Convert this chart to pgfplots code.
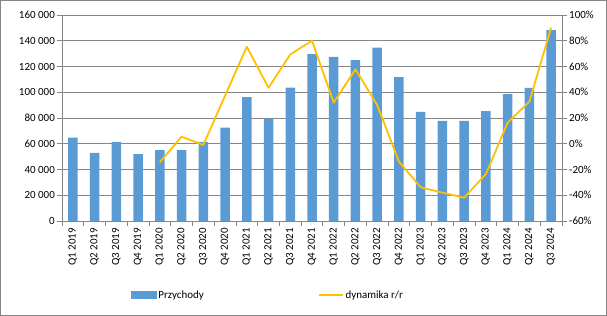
\documentclass[border=0pt]{standalone}
\usepackage{pgfplots}
\pgfplotsset{compat=1.18}
\usepackage{fontspec}
\setmainfont{Carlito}
\definecolor{barblue}{HTML}{5B9BD5}
\definecolor{linegold}{HTML}{FFC000}
\definecolor{gridgray}{HTML}{868686}
\begin{document}
\begin{tikzpicture}[font=\fontsize{11}{13}\selectfont]
\draw[gridgray, line width=0.8bp] (-61.6bp,-94.6bp) rectangle (544.6bp,220.6bp);
\begin{axis}[
  at={(0,0)}, anchor=south west, scale only axis, width=500bp, height=206bp,
  xmin=-0.5, xmax=22.5, ymin=0, ymax=160000,
  scaled y ticks=false,
  axis x line*=bottom, axis y line*=left,
  axis line style={gridgray, line width=0.8bp},
  xtick={0,...,22},
  xticklabels={Q1 2019,Q2 2019,Q3 2019,Q4 2019,Q1 2020,Q2 2020,Q3 2020,Q4 2020,Q1 2021,Q2 2021,Q3 2021,Q4 2021,Q1 2022,Q2 2022,Q3 2022,Q4 2022,Q1 2023,Q2 2023,Q3 2023,Q4 2023,Q1 2024,Q2 2024,Q3 2024},
  xticklabel style={rotate=90, anchor=east, inner sep=2bp},
  major x tick style={draw=none},
  minor xtick={-0.5,0.5,...,22.5},
  minor x tick style={gridgray, line width=0.8bp},
  minor tick length=5bp,
  ytick={0,20000,...,160000},
  yticklabels={0,20 000,40 000,60 000,80 000,100 000,120 000,140 000,160 000},
  major y tick style={gridgray, line width=0.8bp},
  major tick length=5bp,
  tick align=outside,
  ymajorgrids, grid style={gridgray, line width=0.8bp},
  yticklabel style={inner sep=2bp},
]
\addplot[ybar, bar width=9.5bp, fill=barblue, draw=none] coordinates {
(0,64700) (1,53000) (2,61400) (3,52000) (4,55000) (5,55000) (6,61400) (7,72500)
(8,96300) (9,79500) (10,103500) (11,129700) (12,127400) (13,125000) (14,134600)
(15,111800) (16,84700) (17,77700) (18,77700) (19,85400) (20,98600) (21,103300) (22,148300)};
\end{axis}
\begin{axis}[
  at={(0,0)}, anchor=south west, scale only axis, width=500bp, height=206bp,
  xmin=-0.5, xmax=22.5, ymin=-60, ymax=100,
  axis x line=none, axis y line*=right,
  axis line style={gridgray, line width=0.8bp},
  ytick={-60,-40,...,100},
  yticklabels={-60\%,-40\%,-20\%,0\%,20\%,40\%,60\%,80\%,100\%},
  major y tick style={gridgray, line width=0.8bp},
  major tick length=5bp,
  tick align=outside,
  yticklabel style={inner sep=2bp},
  legend style={at={(0.412,-0.359)}, anchor=center, draw=none, fill=none, font=\fontsize{11}{13}\selectfont},
  legend columns=2,
  legend cell align=left,
  /tikz/every even column/.append style={column sep=112bp},
]
\addlegendimage{legend image code/.code={\fill[barblue] (0bp,-3.5bp) rectangle (25bp,3.5bp);}}
\addlegendentry{Przychody}
\addlegendimage{legend image code/.code={\draw[draw=linegold, line width=1.8bp] (0bp,0bp) -- (24bp,0bp);}}
\addlegendentry{dynamika r/r}
\addplot[linegold, line width=1.8bp, line join=round, forget plot] coordinates {
(4,-14.4) (5,5.5) (6,-1) (7,37.3) (8,75.4) (9,43.5) (10,69.4) (11,80) (12,31.9)
(13,57.8) (14,30) (15,-13.9) (16,-33.8) (17,-38) (18,-41.9) (19,-23.5) (20,16.4)
(21,32.7) (22,90.2)};
\end{axis}
\end{tikzpicture}
\end{document}
